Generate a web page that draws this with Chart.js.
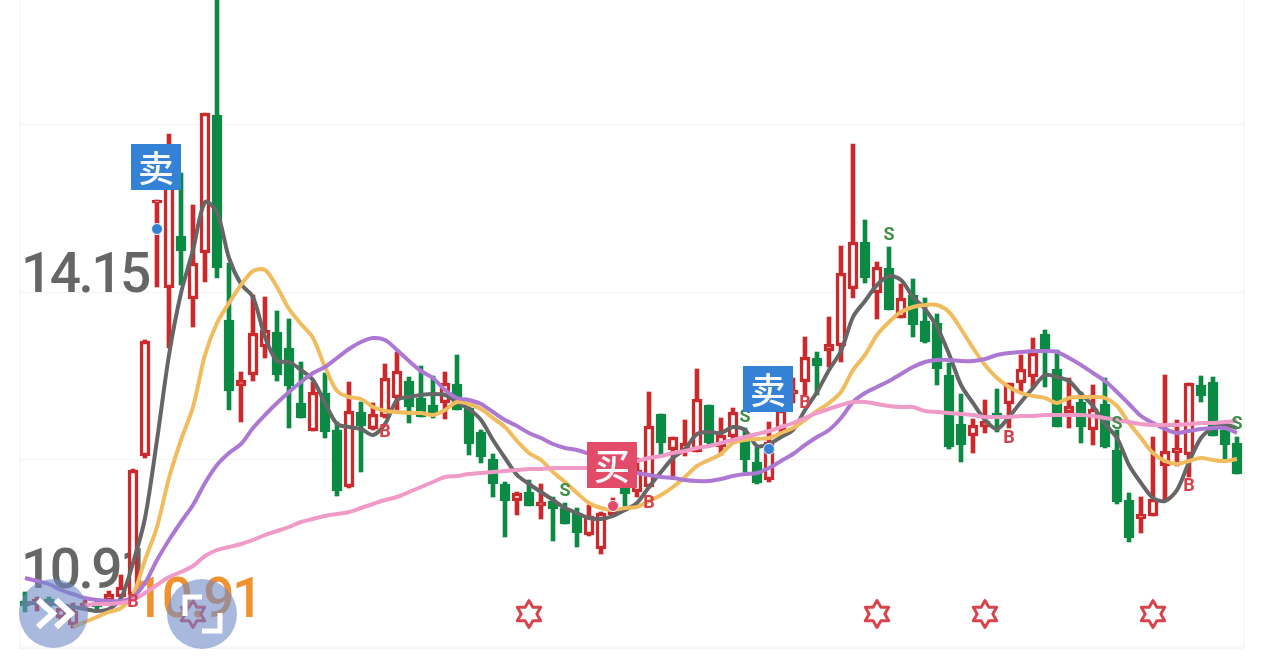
<!DOCTYPE html>
<html>
<head>
<meta charset="utf-8">
<title>K线图</title>
<style>
  html, body { margin: 0; padding: 0; background: #fff; overflow: hidden; }
  canvas { display: block; }
</style>
<script src="https://cdn.jsdelivr.net/npm/chart.js@4"></script>
</head>
<body>
<canvas id="klineChart" width="1264" height="662"></canvas>
<script>
  // Candles
  const opens = [11.06,11.03,11.08,10.89,10.82,11.01,11.04,11.06,11.10,11.12,
    12.51,15.04,14.19,14.71,14.08,14.54,15.92,13.87,13.21,13.32,
    13.60,13.75,13.59,13.04,12.76,13.14,12.77,12.20,12.95,12.78,
    12.90,13.09,13.26,13.09,13.02,13.04,13.23,12.99,12.75,12.48,
    12.23,12.06,12.15,12.01,12.06,11.99,11.94,11.72,11.58,11.92,
    12.23,12.15,12.20,12.93,12.57,12.55,12.55,13.02,12.60,12.70,
    12.69,12.45,12.27,12.77,13.13,13.25,13.49,13.56,13.61,14.18,
    14.65,14.14,14.39,13.89,14.12,13.86,13.84,13.32,12.83,12.71,
    12.80,12.94,13.03,13.24,13.30,13.73,13.38,12.94,13.05,12.77,
    13.03,12.57,12.07,11.88,11.91,12.41,12.54,12.52,13.22,13.25,
    12.77,12.64];
  const closes = [11.01,11.08,11.01,10.99,10.96,11.04,11.00,11.13,11.20,12.37,
    13.66,15.07,15.32,14.56,14.44,15.94,14.39,13.16,13.27,13.74,
    13.77,13.32,13.21,12.89,13.15,12.75,12.16,12.96,12.81,12.93,
    13.29,13.36,13.00,12.90,12.94,13.24,12.97,12.63,12.50,12.23,
    12.06,12.14,12.01,12.05,11.98,11.83,11.74,11.91,11.94,12.04,
    12.13,12.37,12.81,12.64,12.70,12.64,13.08,12.64,12.72,12.95,
    12.47,12.24,12.65,12.97,13.17,13.50,13.41,13.63,14.34,14.65,
    14.29,14.40,13.97,14.09,13.82,13.65,13.38,12.60,12.62,12.82,
    12.86,12.91,13.24,13.38,13.54,13.55,12.80,13.01,12.80,12.98,
    12.60,12.05,11.69,11.93,12.08,12.56,12.59,13.24,13.11,12.71,
    12.62,12.33];
  const highs = [11.15,11.10,11.10,11.01,11.04,11.07,11.06,11.16,11.32,12.38,
    13.67,15.07,15.73,15.34,15.02,15.94,17.07,14.44,13.35,14.12,
    14.10,13.96,13.88,13.45,13.25,13.34,12.85,13.25,13.05,13.04,
    13.43,13.55,13.30,13.41,13.31,13.35,13.52,13.00,12.77,12.53,
    12.25,12.15,12.27,12.23,12.10,12.04,11.99,12.02,11.95,12.09,
    12.27,12.49,13.15,12.93,12.70,12.87,13.38,13.02,12.89,12.99,
    12.79,12.60,12.85,13.07,13.29,13.70,13.55,13.90,14.61,15.63,
    14.87,14.45,14.60,14.23,14.28,14.09,13.93,13.44,13.13,12.88,
    13.07,13.18,13.24,13.52,13.69,13.77,13.57,13.29,13.15,13.22,
    13.29,12.77,12.14,12.10,12.70,13.32,12.87,13.24,13.31,13.30,
    12.80,12.70];
  const lows = [10.95,10.96,10.95,10.85,10.79,10.97,10.97,11.03,11.07,11.07,
    12.49,14.20,13.59,14.22,13.80,14.25,14.29,12.97,12.85,13.26,
    13.49,13.26,12.79,12.89,12.76,12.69,12.11,12.19,12.35,12.77,
    12.89,12.97,12.84,12.90,12.89,12.88,12.97,12.52,12.44,12.10,
    11.70,11.92,12.01,11.88,11.66,11.83,11.60,11.71,11.53,11.91,
    12.00,12.10,12.19,12.52,12.30,12.51,12.55,12.62,12.52,12.64,
    12.35,12.23,12.25,12.74,13.04,13.12,13.12,13.40,13.45,14.09,
    14.24,13.88,13.97,13.89,13.70,13.64,13.22,12.58,12.45,12.54,
    12.74,12.75,12.79,13.15,13.20,13.20,12.80,12.79,12.64,12.62,
    12.59,12.03,11.65,11.74,11.91,12.07,12.41,12.30,13.05,12.71,
    12.48,12.33];

  // Moving averages
  const maGray = [11.04,11.04,11.04,11.02,11.00,10.98,10.96,10.98,11.09,11.44,
    11.89,12.67,13.52,14.14,14.57,15.05,14.95,14.49,14.23,14.10,
    13.70,13.46,13.45,13.37,13.27,13.04,12.83,12.80,12.78,12.72,
    12.83,13.07,13.10,13.12,13.13,13.12,13.05,12.98,12.87,12.67,
    12.49,12.32,12.23,12.15,12.07,11.99,11.94,11.89,11.88,11.91,
    11.97,12.04,12.20,12.35,12.49,12.58,12.73,12.75,12.74,12.80,
    12.77,12.61,12.63,12.70,12.77,12.97,13.15,13.37,13.56,13.90,
    14.06,14.22,14.31,14.27,14.10,13.98,13.80,13.53,13.22,13.04,
    12.87,12.78,12.90,13.05,13.19,13.32,13.30,13.26,13.13,13.01,
    12.83,12.69,12.42,12.24,12.09,12.06,12.17,12.45,12.69,12.79,
    12.82,12.79];
  const maOrange = [null,null,null,null,10.80,10.85,10.90,10.95,10.99,11.12,
    11.47,11.80,12.29,12.67,13.00,13.52,13.84,14.04,14.22,14.36,
    14.37,14.20,13.98,13.83,13.69,13.40,13.16,13.10,13.08,13.00,
    12.96,12.95,12.94,12.94,12.92,12.97,13.05,13.03,12.98,12.89,
    12.80,12.66,12.54,12.47,12.35,12.25,12.14,12.04,11.99,11.97,
    11.99,12.00,12.06,12.12,12.20,12.30,12.41,12.47,12.53,12.64,
    12.67,12.68,12.69,12.74,12.79,12.87,12.96,13.04,13.15,13.37,
    13.52,13.72,13.85,13.95,14.00,14.02,14.02,13.95,13.78,13.59,
    13.42,13.29,13.20,13.14,13.11,13.09,13.04,13.09,13.10,13.10,
    13.09,13.01,12.84,12.69,12.54,12.46,12.43,12.46,12.49,12.47,
    12.46,12.48];
  const maPurple = [11.29,11.26,11.23,11.17,11.13,11.09,11.07,11.06,11.06,11.10,
    11.24,11.47,11.67,11.85,12.02,12.24,12.42,12.54,12.63,12.79,
    12.92,13.04,13.15,13.25,13.34,13.40,13.49,13.58,13.65,13.69,
    13.67,13.57,13.46,13.36,13.29,13.17,13.09,13.07,13.03,12.95,
    12.87,12.81,12.74,12.69,12.63,12.59,12.57,12.53,12.47,12.42,
    12.37,12.34,12.32,12.30,12.29,12.27,12.26,12.26,12.28,12.31,
    12.33,12.34,12.39,12.46,12.53,12.62,12.70,12.77,12.89,13.05,
    13.14,13.20,13.26,13.33,13.40,13.45,13.47,13.47,13.46,13.46,
    13.48,13.52,13.54,13.55,13.56,13.56,13.55,13.49,13.42,13.34,
    13.26,13.15,13.03,12.91,12.84,12.78,12.74,12.76,12.78,12.79,
    12.79,12.74];
  const maPink = [null,null,null,null,null,11.02,11.03,11.03,11.04,11.07,
    11.14,11.22,11.30,11.35,11.41,11.51,11.57,11.60,11.63,11.67,
    11.72,11.76,11.80,11.85,11.88,11.91,11.93,11.95,11.99,12.03,
    12.07,12.10,12.15,12.20,12.25,12.30,12.31,12.33,12.34,12.35,
    12.36,12.37,12.38,12.38,12.39,12.39,12.39,12.39,12.41,12.42,
    12.44,12.46,12.49,12.51,12.54,12.56,12.59,12.61,12.64,12.67,
    12.70,12.73,12.76,12.80,12.84,12.89,12.94,12.98,13.02,13.05,
    13.05,13.03,13.01,13.00,13.00,12.96,12.95,12.94,12.93,12.92,
    12.90,12.90,12.90,12.91,12.91,12.92,12.92,12.92,12.92,12.91,
    12.89,12.87,12.85,12.83,12.82,12.82,12.82,12.83,12.84,12.84,
    12.85,12.86];

  // Axis and labels
  const gridPrices = [15.83, 14.15, 12.47, 10.59];
  const axisLabels = ["14.15", "10.91"];
  const axisLabelPrices = [14.15, 11.19];
  const lastPriceLabel = "10.91";
  const lastPrice = 10.91;

  // Signals (index into the candles)
  const sellIdx = [11, 62];
  const sellDotPrices = [14.78, 12.58];
  const sellBoxPrices = [15.40, 13.18];
  const buyIdx = [49];
  const buyDotPrices = [12.01];
  const buyBoxPrices = [12.42];
  const sIdx = [45, 60, 72, 91, 101];
  const sPrices = [12.16, 12.90, 14.72, 12.83, 12.83];
  const bIdx = [9, 30, 52, 65, 82, 97];
  const bPrices = [11.05, 12.75, 12.04, 13.04, 12.69, 12.21];
  const starIdx = [14, 42, 71, 80, 94];
  const starPrice = 10.93;

  const categories = opens.map((_, i) => i);
  const RED = "#cb2a2c";
  const GREEN = "#0b8a43";
  const NUM_FONT = '500 55px Roboto';

  function sparse(idx, vals) {
    const out = categories.map(() => null);
    idx.forEach((k, n) => { out[k] = vals[n]; });
    return out;
  }

  function makeStar() {
    const c = document.createElement("canvas");
    c.width = 34; c.height = 34;
    const g = c.getContext("2d");
    g.strokeStyle = "#d9444c";
    g.lineWidth = 3;
    g.lineJoin = "round";
    g.beginPath();
    for (let i = 0; i < 12; i++) {
      const r = i % 2 ? 7.8 : 13.5;
      const a = -Math.PI / 2 + i * Math.PI / 6;
      g[i ? "lineTo" : "moveTo"](17 + r * Math.cos(a), 17 + r * Math.sin(a));
    }
    g.closePath();
    g.stroke();
    return c;
  }

  function line(data, color, order) {
    return { type: "line", data, borderColor: color, borderWidth: 4, pointRadius: 0,
             tension: 0.3, spanGaps: false, order };
  }

  function dots(data, color, order) {
    return { type: "line", data, showLine: false, pointRadius: 5.5, pointBorderWidth: 1,
             pointBackgroundColor: color, pointBorderColor: "#f4f8fc", order };
  }

  // labels, sell/buy boxes and the two round buttons
  const overlays = {
    id: "overlays",
    beforeDatasetsDraw(chart) {
      const { ctx, chartArea: a, scales: { y } } = chart;
      ctx.save();
      ctx.strokeStyle = "#f3f3f3";
      ctx.lineWidth = 1;
      ctx.strokeRect(a.left + 1, a.top - 1, a.width, a.height);
      ctx.font = NUM_FONT;
      ctx.letterSpacing = "-2.5px";
      ctx.textBaseline = "alphabetic";
      ctx.fillStyle = "#666666";
      axisLabels.forEach((t, i) => ctx.fillText(t, 21, y.getPixelForValue(axisLabelPrices[i])));
      ctx.fillStyle = "#f09230";
      ctx.fillText(lastPriceLabel, 133, y.getPixelForValue(lastPrice) + 1);
      ctx.restore();
    },
    afterDatasetsDraw(chart) {
      const { ctx, scales: { x, y } } = chart;
      ctx.save();
      ctx.textAlign = "center";
      ctx.textBaseline = "middle";

      ctx.font = '700 18px Roboto';
      ctx.fillStyle = "#3f8f48";
      sIdx.forEach((k, i) => ctx.fillText("S", x.getPixelForValue(k), y.getPixelForValue(sPrices[i])));
      ctx.fillStyle = "#d5404a";
      bIdx.forEach((k, i) => ctx.fillText("B", x.getPixelForValue(k), y.getPixelForValue(bPrices[i])));

      function box(k, price, color, text) {
        const cx = x.getPixelForValue(k) - 1, cy = y.getPixelForValue(price);
        ctx.fillStyle = color;
        ctx.fillRect(cx - 25, cy - 23, 50, 46);
        ctx.fillStyle = "#f6f8fb";
        ctx.font = '500 36px "Noto Sans CJK SC"';
        ctx.fillText(text, cx, cy + 1);
      }
      sellIdx.forEach((k, i) => box(k, sellBoxPrices[i], "#3382d6", "卖"));
      buyIdx.forEach((k, i) => box(k, buyBoxPrices[i], "#e24c68", "买"));

      // round buttons
      ctx.fillStyle = "rgba(112,138,200,0.6)";
      ctx.beginPath(); ctx.arc(53.5, 613.5, 34.5, 0, Math.PI * 2); ctx.fill();
      ctx.beginPath(); ctx.arc(202, 614, 35, 0, Math.PI * 2); ctx.fill();

      ctx.strokeStyle = "#fff";
      ctx.lineWidth = 6;
      ctx.lineJoin = "miter";
      [[38, 53], [56, 71]].forEach(([x0, x1]) => {
        ctx.beginPath();
        ctx.moveTo(x0, 600); ctx.lineTo(x1, 613.5); ctx.lineTo(x0, 627);
        ctx.stroke();
      });
      ctx.lineWidth = 5;
      ctx.beginPath();
      ctx.moveTo(185, 616); ctx.lineTo(185, 597); ctx.lineTo(202, 597);
      ctx.moveTo(220, 613); ctx.lineTo(220, 631); ctx.lineTo(202, 631);
      ctx.stroke();
      ctx.restore();
    }
  };

  new Chart(document.getElementById("klineChart"), {
    data: {
      labels: categories,
      datasets: [
        {
          type: "bar",
          data: categories.map(i => [lows[i], highs[i]]),
          backgroundColor: categories.map(i => closes[i] >= opens[i] ? RED : GREEN),
          barThickness: 4,
          grouped: false,
          order: 20
        },
        {
          type: "bar",
          data: categories.map(i => [opens[i], closes[i]]),
          backgroundColor: categories.map(i => closes[i] >= opens[i] ? "#fff" : GREEN),
          borderColor: categories.map(i => closes[i] >= opens[i] ? RED : GREEN),
          borderWidth: 3.5,
          borderSkipped: false,
          barThickness: 10,
          grouped: false,
          order: 19
        },
        line(maGray, "#666666", 14),
        line(maOrange, "#f0bc5e", 13),
        line(maPurple, "#ad78d4", 12),
        line(maPink, "#f09ac8", 11),
        {
          type: "line",
          data: sparse(starIdx, starIdx.map(() => starPrice)),
          showLine: false,
          pointStyle: makeStar(),
          pointRadius: 14,
          order: 5
        },
        dots(sparse(sellIdx, sellDotPrices), "#3382d6", 4),
        dots(sparse(buyIdx, buyDotPrices), "#e24c68", 3)
      ]
    },
    options: {
      responsive: false,
      animation: false,
      events: [],
      layout: { autoPadding: false, padding: { left: 19, right: 21, top: 0, bottom: 14 } },
      plugins: { legend: { display: false }, tooltip: { enabled: false } },
      scales: {
        x: { display: false, offset: true },
        y: {
          min: 10.59,
          max: 17.07,
          afterBuildTicks(axis) { axis.ticks = gridPrices.map(value => ({ value })); },
          ticks: { display: false },
          border: { display: false },
          grid: { color: "#f3f3f3", drawTicks: false }
        }
      }
    },
    plugins: [overlays]
  });
</script>
</body>
</html>
